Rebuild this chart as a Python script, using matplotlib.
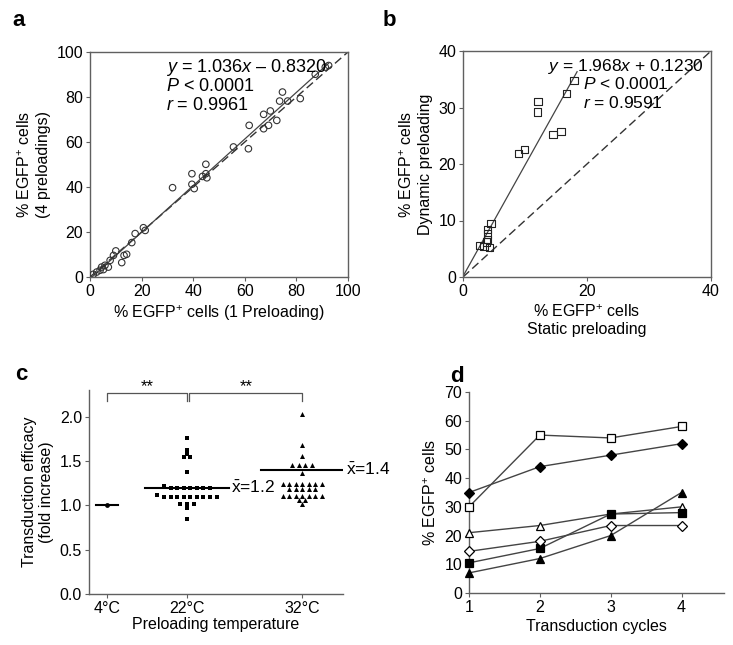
import numpy as np
import matplotlib
matplotlib.use("Agg")
import matplotlib.pyplot as plt

plt.rcParams['font.family'] = ['Liberation Sans', 'DejaVu Sans']
plt.rcParams['mathtext.fontset'] = 'custom'
plt.rcParams['mathtext.rm'] = 'Liberation Sans'
plt.rcParams['mathtext.it'] = 'Liberation Sans:italic'
plt.rcParams['mathtext.bf'] = 'Liberation Sans:bold'
plt.rcParams['font.size'] = 11.5

# ---------------- data ----------------
# panel a: % EGFP+ cells, 1 preloading (x) vs 4 preloadings (y)
a_x = [91.2, 87.3, 92.5, 74.6, 73.5, 76.6, 81.5, 67.3, 69.9, 67.3, 69.2, 72.4,
       61.7, 55.6, 61.4, 44.9, 44.9, 45.3, 43.6, 39.5, 39.5, 40.4, 32.0, 20.7,
       21.4, 17.5, 16.2, 14.2, 12.3, 13.2, 10.0, 9.1, 7.8, 7.1, 5.8, 4.5, 3.9,
       2.6, 1.3, 5.2]
a_y = [93.3, 90.1, 94.0, 82.2, 78.2, 78.2, 79.3, 72.3, 73.8, 65.9, 67.4, 69.6,
       67.4, 57.8, 57.0, 50.1, 45.9, 44.1, 44.7, 45.9, 41.2, 39.3, 39.7, 21.9,
       20.7, 19.3, 15.3, 10.1, 6.4, 9.6, 11.6, 9.6, 7.4, 4.4, 5.2, 4.4, 3.0,
       2.2, 1.2, 3.3]
a_slope, a_icpt = 1.036, -0.8320
a_text = [r"$y$ = 1.036$x$ – 0.8320", r"$P$ < 0.0001", r"$r$ = 0.9961"]

# panel b: static (x) vs dynamic (y) preloading
b_x = [17.9, 16.7, 12.1, 12.0, 14.5, 15.8, 9.0, 9.9, 4.5, 3.9, 4.0, 4.0, 3.8,
       2.7, 3.4, 4.3]
b_y = [34.8, 32.5, 31.1, 29.2, 25.2, 25.8, 21.9, 22.6, 9.5, 8.4, 7.6, 6.6, 6.2,
       5.6, 5.4, 5.2]
b_slope, b_icpt = 1.968, 0.1230
b_text = [r"$y$ = 1.968$x$ + 0.1230", r"$P$ < 0.0001", r"$r$ = 0.9591"]

# panel c: transduction efficacy by preloading temperature
c_labels = ["4°C", "22°C", "32°C"]
c_4 = [1.0]
c_22 = [1.76, 1.62, 1.58, 1.54, 1.54, 1.37, 1.22, 1.19, 1.19, 1.19, 1.19, 1.19,
        1.19, 1.19, 1.12, 1.09, 1.09, 1.09, 1.09, 1.09, 1.09, 1.09, 1.09, 1.09,
        1.02, 1.02, 1.02, 0.97, 0.85]
c_32 = [2.03, 1.68, 1.56, 1.46, 1.46, 1.46, 1.46, 1.36, 1.24, 1.24, 1.24, 1.24,
        1.24, 1.24, 1.24, 1.18, 1.18, 1.18, 1.18, 1.18, 1.10, 1.10, 1.10, 1.10,
        1.10, 1.10, 1.10, 1.06, 1.06, 1.01]
c_means = [1.0, 1.2, 1.4]
c_mean_labels = [None, r"$\bar{\mathrm{x}}$=1.2", r"$\bar{\mathrm{x}}$=1.4"]

# panel d: % EGFP+ cells over transduction cycles
d_cycles = [1, 2, 3, 4]
d_open_square = [30, 55, 54, 58]
d_filled_diamond = [35, 44, 48, 52]
d_open_triangle = [21, 23.5, 27.5, 30]
d_filled_square = [10.5, 15.5, 27.5, 28]
d_open_diamond = [14.5, 18, 23.5, 23.5]
d_filled_triangle = [7, 12, 20, 35]

# ---------------- figure ----------------
W, H = 733, 645
fig = plt.figure(figsize=(W / 100, H / 100), dpi=100)
SP = '#606060'


def ax_at(l, t, r, b):
    return fig.add_axes([l / W, 1 - b / H, (r - l) / W, (b - t) / H])


def style(ax, box=True):
    for s in ax.spines.values():
        s.set_color(SP)
        s.set_linewidth(1.0)
    if not box:
        ax.spines['top'].set_visible(False)
        ax.spines['right'].set_visible(False)
    ax.tick_params(direction='out', length=3, width=0.8, color=SP, pad=2)


EGFP = r"% EGFP$^{+}$ cells"

# ---- a ----
ax = ax_at(90, 52, 348, 277)
style(ax)
ax.plot([0, 100], [0, 100], ls=(0, (6, 3)), color='#333333', lw=1.0)
xx = np.array([0.8, 92.5])
ax.plot(xx, a_slope * xx + a_icpt, color='#444444', lw=0.9)
ax.scatter(a_x, a_y, s=22, facecolors='none', edgecolors='#333333',
           linewidths=0.8, zorder=3)
ax.set_xlim(0, 100)
ax.set_ylim(0, 100)
ax.set_xticks(range(0, 101, 20))
ax.set_yticks(range(0, 101, 20))
ax.set_xlabel(EGFP + " (1 Preloading)", labelpad=3)
ax.set_ylabel(EGFP + "\n(4 preloadings)", labelpad=4)
for i, t in enumerate(a_text):
    ax.text(0.295, 0.93 - i * 0.085, t, transform=ax.transAxes, fontsize=13,
            va='center', ha='left')
fig.text(12 / W, 1 - 20 / H, "a", fontsize=16, fontweight='bold', va='center')

# ---- b ----
ax = ax_at(463, 51, 711, 277)
style(ax)
ax.plot([0, 40], [0, 40], ls=(0, (6, 3)), color='#333333', lw=1.0)
xx = np.array([0, 18.4])
ax.plot(xx, b_slope * xx + b_icpt, color='#444444', lw=0.9)
ax.scatter(b_x, b_y, s=28, marker='s', facecolors='none', edgecolors='#222222',
           linewidths=0.8, zorder=3)
ax.set_xlim(0, 40)
ax.set_ylim(0, 40)
ax.set_xticks([0, 20, 40])
ax.set_yticks(range(0, 41, 10))
ax.set_xlabel(EGFP + "\nStatic preloading", labelpad=3)
ax.set_ylabel(EGFP + "\nDynamic preloading", labelpad=4)
ax.text(0.97, 0.93, b_text[0], transform=ax.transAxes, fontsize=12.5,
        va='center', ha='right')
for i, t in enumerate(b_text[1:]):
    ax.text(0.485, 0.855 - i * 0.085, t, transform=ax.transAxes, fontsize=12.5,
            va='center', ha='left')
fig.text(383 / W, 1 - 20 / H, "b", fontsize=16, fontweight='bold', va='center')

# ---- c ----
ax = ax_at(89, 390, 343, 594)
style(ax, box=False)
c_pos = [0, 1, 2.44]
ax.set_xlim(-0.225, 2.95)
ax.set_ylim(0, 2.3)


def swarm(vals, tol=0.035, step=0.082):
    vals = np.sort(np.asarray(vals, float))[::-1]
    rows, cur = [], [vals[0]]
    for v in vals[1:]:
        if abs(cur[0] - v) <= tol:
            cur.append(v)
        else:
            rows.append(cur)
            cur = [v]
    rows.append(cur)
    xs, ys = [], []
    for r in rows:
        n = len(r)
        for i, v in enumerate(r):
            xs.append((i - (n - 1) / 2) * step)
            ys.append(v)
    return np.array(xs), np.array(ys)


groups = [(c_4, 'o', 12), (c_22, 's', 10), (c_32, '^', 13)]
half_w = [0.14, 0.52, 0.52]
for k, (vals, m, sz) in enumerate(groups):
    ox, oy = swarm(vals)
    ax.scatter(c_pos[k] + ox, oy, marker=m, s=sz, color='black', zorder=3,
               linewidths=0)
    ax.plot([c_pos[k] - half_w[k], c_pos[k] + half_w[k]], [c_means[k]] * 2,
            color='black', lw=1.5, zorder=2)
    if c_mean_labels[k]:
        ax.text(c_pos[k] + half_w[k] + 0.03, c_means[k], c_mean_labels[k],
                va='center', ha='left', fontsize=12.5)
ax.set_xticks(c_pos)
ax.set_xticklabels(c_labels)
ax.set_yticks([0, 0.5, 1.0, 1.5, 2.0])
ax.set_yticklabels(["0.0", "0.5", "1.0", "1.5", "2.0"])
ax.set_xlabel("Preloading temperature", labelpad=1)
ax.set_ylabel("Transduction efficacy\n(fold increase)", labelpad=4)
yb, yt = 2.18, 2.27
for x0, x1 in [(c_pos[0], c_pos[1]), (c_pos[1] + 0.03, c_pos[2])]:
    ax.plot([x0, x0, x1, x1], [yb, yt, yt, yb], color='#555555', lw=0.9,
            clip_on=False)
    ax.text((x0 + x1) / 2, 2.34, "**", ha='center', va='center', fontsize=12,
            clip_on=False)
fig.text(15 / W, 1 - 375 / H, "c", fontsize=16, fontweight='bold', va='center')

# ---- d ----
ax = ax_at(469, 392, 724, 593)
style(ax, box=False)
LC = '#444444'
series = [
    (d_open_square, 's', 'white', 6),
    (d_filled_diamond, 'D', 'black', 5),
    (d_open_triangle, '^', 'white', 6),
    (d_filled_square, 's', 'black', 5.5),
    (d_open_diamond, 'D', 'white', 5),
    (d_filled_triangle, '^', 'black', 6),
]
for vals, m, fc, ms in series:
    ax.plot(d_cycles, vals, color=LC, lw=1.0, marker=m, mfc=fc, mec='black',
            mew=0.9, ms=ms, clip_on=False, zorder=3)
ax.set_xlim(1, 4.6)
ax.set_ylim(0, 70)
ax.set_xticks(d_cycles)
ax.set_yticks(range(0, 71, 10))
ax.set_xlabel("Transduction cycles", labelpad=3)
ax.set_ylabel(EGFP, labelpad=4)
fig.text(450 / W, 1 - 376 / H, "d", fontsize=16, fontweight='bold', va='center')

fig.savefig("out.png", dpi=100)
